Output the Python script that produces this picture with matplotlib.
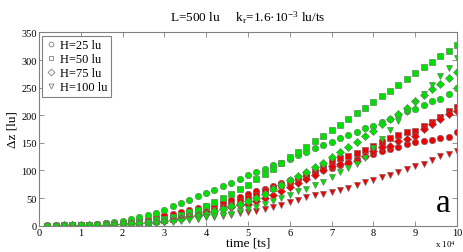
import numpy as np
import matplotlib
matplotlib.use("Agg")
import matplotlib.pyplot as plt
from matplotlib.lines import Line2D

plt.rcParams['font.family'] = ['Liberation Serif', 'DejaVu Serif']
plt.rcParams['mathtext.fontset'] = 'custom'
plt.rcParams['mathtext.rm'] = 'Liberation Serif'
plt.rcParams['mathtext.it'] = 'Liberation Serif:italic'

# time in units of 10^4 ts, sampled every 2000 ts
time = np.arange(1, 51) * 0.2

labels = ["H=25 lu", "H=50 lu", "H=75 lu", "H=100 lu"]
markers = ["o", "s", "D", "v"]

green_h25 = [0.5, 0.5, 0.7, 1, 1.5, 2, 3, 4.4, 6, 9,
             12, 15, 19, 23, 29, 35, 41, 47, 53, 60,
             65, 72, 78, 84, 91, 97, 103, 109, 114, 120,
             128, 134, 140, 146, 152, 158, 164, 170, 176, 181,
             188, 194, 200, 207, 212, 218, 225, 230, 238, 250]
green_h50 = [0, 0.3, 0.5, 0.8, 1, 1.3, 1.7, 2.2, 2.8, 3.5,
             4.5, 6, 7.5, 9.5, 12, 15, 19, 24, 29, 36,
             43, 50, 57, 66, 74, 84, 94, 103, 113, 124,
             133, 143, 153, 163, 173, 183, 193, 204, 214, 224,
             235, 244, 255, 265, 276, 287, 296, 307, 316, 328]
green_h75 = [0, 0.2, 0.4, 0.6, 0.8, 1, 1.3, 1.7, 2.2, 3,
             3.5, 4.2, 5, 6.5, 8, 10, 12, 15, 18, 22,
             26, 30, 35, 40, 45, 51, 58, 66, 74, 82,
             90, 98, 106, 114, 124, 133, 142, 152, 162, 172,
             184, 194, 203, 214, 225, 237, 248, 257, 268, 279]
green_h100 = [0, 0.1, 0.2, 0.4, 0.6, 0.8, 1, 1.3, 1.7, 2.2,
              2.8, 3.4, 4, 5, 6, 7.5, 9, 10.5, 12.5, 15,
              17, 19, 22, 26, 30, 34, 39, 44, 50, 56,
              62, 67, 73, 79, 88, 97, 104, 111, 123, 140,
              157, 173, 189, 205, 222, 239, 254, 271, 286, 303]
red_h25 = [0, 0.5, 1, 1, 1.5, 2, 3, 4, 5, 7,
           9, 11, 13, 16, 19, 22, 25, 28, 32, 36,
           38, 42, 46, 52, 57, 62, 67, 72, 77, 82,
           86, 90, 95, 100, 104, 109, 115, 121, 127, 130,
           136, 139, 142, 148, 152, 154, 156, 159, 160, 169]
red_h50 = [0, 0.2, 0.4, 0.6, 0.8, 1, 1.3, 1.7, 2.2, 3,
           4, 5, 6.5, 8, 10, 13, 16, 19, 22, 26,
           29, 33, 38, 44, 50, 56, 62, 68, 74, 80,
           87, 94, 101, 108, 117, 122, 127, 131, 137, 145,
           151, 158, 165, 170, 172, 180, 188, 197, 207, 215]
red_h75 = [0, 0.2, 0.4, 0.6, 0.8, 1, 1.3, 1.7, 2.2, 3,
           4, 5, 6, 7.5, 9, 11, 14, 17, 20, 24,
           27, 30, 33, 37, 40, 45, 50, 56, 62, 70,
           77, 84, 91, 100, 108, 111, 113, 117, 126, 135,
           143, 145, 154, 157, 163, 175, 185, 194, 203, 207]
red_h100 = [0, 0.1, 0.2, 0.3, 0.5, 0.7, 1, 1.3, 1.7, 2.2,
            3, 3.8, 4.7, 5.7, 7, 8.5, 10, 11.5, 13, 15,
            16.5, 18, 20, 22.5, 24.3, 27, 30, 33.4, 37.5, 42.4,
            47, 51.5, 55, 58, 61.7, 64.7, 67.8, 73.8, 78.7, 83.4,
            87.8, 92.5, 98, 103, 107.7, 112, 119, 125.8, 130, 135]

red_series = [red_h25, red_h50, red_h75, red_h100]
green_series = [green_h25, green_h50, green_h75, green_h100]

fig = plt.figure(figsize=(4.63, 2.53), dpi=100)
ax = fig.add_axes([0.084, 0.104, 0.903, 0.764])

msize = {"o": 4.6, "s": 4.0, "D": 3.6, "v": 4.8}
for m, r, g in zip(markers, red_series, green_series):
    ax.plot(time, r, ls='none', marker=m, ms=msize[m], mfc='#ee0000',
            mec='#8a5a5a', mew=0.5)
    ax.plot(time, g, ls='none', marker=m, ms=msize[m], mfc='#00e000',
            mec='#5a8a5a', mew=0.5)

ax.set_xlim(0, 10)
ax.set_ylim(0, 350)
ax.set_xticks(range(0, 11))
ax.set_yticks(range(0, 351, 50))
ax.tick_params(direction='in', top=True, right=True, length=3.5,
               width=0.6, color='#808080', labelsize=7.5, pad=1.5)
for sp in ax.spines.values():
    sp.set_color('#808080')
    sp.set_linewidth(0.8)

ax.set_xlabel("time [ts]", fontsize=9.5, labelpad=0)
ax.set_ylabel("Δz [lu]", fontsize=9.5, labelpad=2)
ax.set_title("L=500 lu     k$_\\mathregular{r}$=1.6·10$^{\\mathregular{-3}}$ lu/ts",
             fontsize=9.5, pad=8)

ax.text(0.985, 0.04, "a", transform=ax.transAxes, fontsize=24,
        ha='right', va='bottom')
fig.text(0.985, 0.01, "x 10$^{\\mathregular{4}}$", fontsize=6.5,
         ha='right', va='bottom')

handles = [Line2D([], [], ls='none', marker=m, ms=3.5, mfc='white',
                  mec='#808080', mew=0.6) for m in markers]
leg = ax.legend(handles, labels, loc='upper left', bbox_to_anchor=(0.0, 1.0),
                fontsize=9, handlelength=0.8, handletextpad=0.3,
                labelspacing=0.15, borderpad=0.3, borderaxespad=0.25,
                fancybox=False, framealpha=1)
leg.get_frame().set_edgecolor('#808080')
leg.get_frame().set_linewidth(0.8)

fig.savefig("out.png", dpi=100)
